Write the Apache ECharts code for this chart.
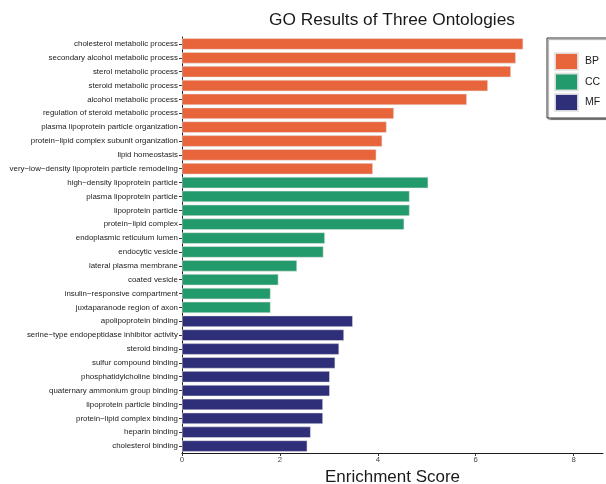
<!DOCTYPE html>
<html>
<head>
<meta charset="utf-8">
<script src="https://cdn.jsdelivr.net/npm/echarts@6/dist/echarts.min.js"></script>
<style>html,body{margin:0;padding:0;background:#fff}#c{width:606px;height:484px}</style>
</head>
<body>
<div id="c"></div>
<script>
const bpTerms = ["cholesterol metabolic process","secondary alcohol metabolic process","sterol metabolic process","steroid metabolic process","alcohol metabolic process","regulation of steroid metabolic process","plasma lipoprotein particle organization","protein\u2212lipid complex subunit organization","lipid homeostasis","very\u2212low\u2212density lipoprotein particle remodeling"];
const bpScores = [6.97,6.82,6.72,6.25,5.82,4.33,4.18,4.09,3.97,3.90];
const ccTerms = ["high\u2212density lipoprotein particle","plasma lipoprotein particle","lipoprotein particle","protein\u2212lipid complex","endoplasmic reticulum lumen","endocytic vesicle","lateral plasma membrane","coated vesicle","insulin\u2212responsive compartment","juxtaparanode region of axon"];
const ccScores = [5.03,4.65,4.65,4.54,2.92,2.89,2.35,1.97,1.81,1.81];
const mfTerms = ["apolipoprotein binding","serine\u2212type endopeptidase inhibitor activity","steroid binding","sulfur compound binding","phosphatidylcholine binding","quaternary ammonium group binding","lipoprotein particle binding","protein\u2212lipid complex binding","heparin binding","cholesterol binding"];
const mfScores = [3.49,3.31,3.21,3.13,3.02,3.02,2.88,2.88,2.63,2.56];
const xTicks = [0,2,4,6,8];

const categories = bpTerms.concat(ccTerms, mfTerms);
const pad = n => Array(n).fill('-');
const bpData = bpScores.concat(pad(ccTerms.length + mfTerms.length));
const ccData = pad(bpTerms.length).concat(ccScores, pad(mfTerms.length));
const mfData = pad(bpTerms.length + ccTerms.length).concat(mfScores);

const colors = {BP:'#E8643A', CC:'#229A6B', MF:'#2E2F78'};
const font = 'Liberation Sans, Arial, Helvetica, sans-serif';

const chart = echarts.init(document.getElementById('c'), null, {renderer:'canvas'});
const mkSeries = (name, data) => ({
  name, type:'bar', stack:'all', data,
  barCategoryGap:'18%',
  itemStyle:{color:colors[name], borderColor:'rgba(230,230,230,0.9)', borderWidth:0.6},
  emphasis:{disabled:true}
});
chart.setOption({
  animation:false,
  backgroundColor:'#fff',
  title:{text:'GO Results of Three Ontologies', left:269, top:12, padding:0,
    textStyle:{fontFamily:font, fontSize:17.3, fontWeight:'normal', color:'#1a1a1a'}},
  legend:{
    orient:'vertical', left:547, top:38,
    data:['BP','CC','MF'],
    icon:'rect', itemWidth:23, itemHeight:17, itemGap:1.5,
    padding:[14,18,6,7],
    borderColor:'#333', borderWidth:1,
    shadowColor:'rgba(0,0,0,0.35)', shadowOffsetX:1.5, shadowOffsetY:1.5, shadowBlur:1,
    backgroundColor:'#fff',
    textStyle:{fontFamily:font, fontSize:10.5, color:'#1a1a1a', padding:[0,0,0,2]}
  },
  grid:{left:182, right:3, top:37, bottom:31, containLabel:false, outerBoundsMode:'none'},
  xAxis:{
    type:'value', min:0, max:8.6, interval:2,
    name:'Enrichment Score', nameLocation:'middle', nameGap:14,
    nameTextStyle:{fontFamily:font, fontSize:17, color:'#1a1a1a'},
    axisLine:{show:true, lineStyle:{color:'#1a1a1a', width:1}},
    axisTick:{show:true, length:3, lineStyle:{color:'#333'}},
    axisLabel:{fontFamily:font, fontSize:7.8, color:'#444', margin:3, showMaxLabel:false,
      formatter:v => xTicks.includes(v) ? String(v) : ''},
    splitLine:{show:false}
  },
  yAxis:{
    type:'category', data:categories, inverse:true,
    axisLine:{show:true, lineStyle:{color:'#1a1a1a', width:1}},
    axisTick:{show:true, alignWithLabel:true, length:3, lineStyle:{color:'#333'}},
    axisLabel:{fontFamily:font, fontSize:7.9, color:'#222', margin:4, interval:0}
  },
  series:[mkSeries('BP', bpData), mkSeries('CC', ccData), mkSeries('MF', mfData)]
});
</script>
</body>
</html>
